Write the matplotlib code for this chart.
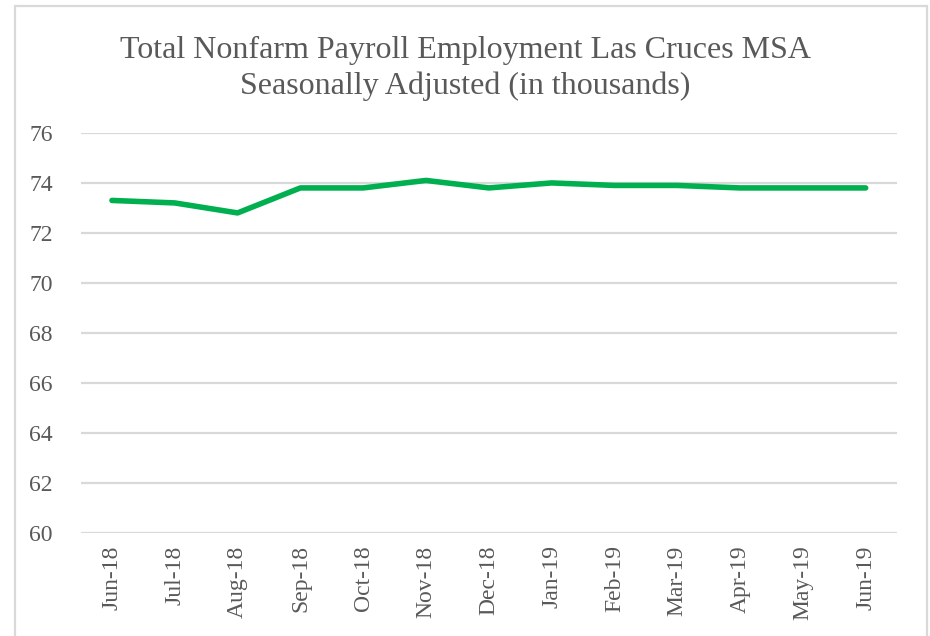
import matplotlib
matplotlib.use('Agg')
import matplotlib.pyplot as plt
from matplotlib.patches import Rectangle

months = ['Jun-18', 'Jul-18', 'Aug-18', 'Sep-18', 'Oct-18', 'Nov-18', 'Dec-18',
          'Jan-19', 'Feb-19', 'Mar-19', 'Apr-19', 'May-19', 'Jun-19']
employment = [73.3, 73.2, 72.8, 73.8, 73.8, 74.1, 73.8, 74.0, 73.9, 73.9, 73.8, 73.8, 73.8]
y_ticks = [60, 62, 64, 66, 68, 70, 72, 74, 76]

plt.rcParams['font.family'] = ['Liberation Serif', 'DejaVu Serif']

fig = plt.figure(figsize=(9.3, 6.36), dpi=100)
ax = fig.add_axes([0.0866, 0.162, 0.878, 0.629])

x = list(range(len(months)))
ax.plot(x, employment, color='#00B050', linewidth=4, solid_capstyle='round', solid_joinstyle='round')

ax.set_xlim(-0.5, len(months) - 0.5)
ax.set_ylim(60, 76)
ax.set_yticks(y_ticks)
ax.set_xticks(x)
ax.set_xticklabels(months, rotation=90)
ax.grid(axis='y', color='#d9d9d9', linewidth=1.6)
ax.set_axisbelow(True)
for s in ax.spines.values():
    s.set_visible(False)
ax.tick_params(axis='both', length=0, labelsize=17, labelcolor='#595959')
ax.tick_params(axis='y', pad=20)
ax.tick_params(axis='x', pad=9)

fig.text(0.5, 0.921, 'Total Nonfarm Payroll Employment Las Cruces MSA', ha='center', va='center',
         fontsize=23, color='#595959')
fig.text(0.5, 0.864, 'Seasonally Adjusted (in thousands)', ha='center', va='center',
         fontsize=23, color='#595959')

# border around the chart
fig.patches.append(Rectangle((0.0165, -0.01), 0.98, 1.0, transform=fig.transFigure,
                             fill=False, edgecolor='#d9d9d9', linewidth=1.6))

fig.savefig('out.png', dpi=100)
